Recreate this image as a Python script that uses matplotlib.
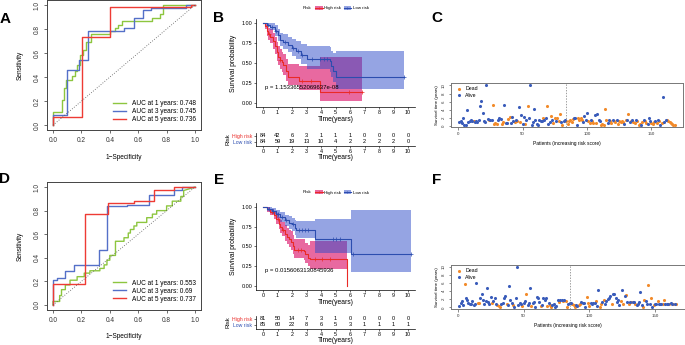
# -*- coding: utf-8 -*-

import numpy as np
import matplotlib
matplotlib.use('Agg')
import matplotlib.pyplot as plt
from matplotlib.lines import Line2D
from matplotlib.patches import Patch

plt.rcParams['font.family'] = ['Liberation Sans', 'DejaVu Sans']

# ---------------- ROC data (A = training, D = validation) ----------------
roc_years = [1, 3, 5]
roc_colors = ['#8DC63F', '#5470C8', '#EE3B34']

a_fp_1 = [0, 0, 0.063, 0.063, 0.08, 0.08, 0.094, 0.094, 0.133, 0.133, 0.157, 0.157, 0.17, 0.17,
          0.192, 0.192, 0.21, 0.21, 0.234, 0.234, 0.267, 0.267, 0.403, 0.403, 0.438, 0.438,
          0.461, 0.461, 0.485, 0.485, 0.696, 0.696, 0.754, 0.754, 0.778, 0.778, 1.0]
a_tp_1 = [0, 0.11, 0.11, 0.21, 0.21, 0.31, 0.31, 0.375, 0.375, 0.41, 0.41, 0.45, 0.45, 0.5,
          0.5, 0.58, 0.58, 0.625, 0.625, 0.69, 0.69, 0.76, 0.76, 0.78, 0.78, 0.81,
          0.81, 0.83, 0.83, 0.865, 0.865, 0.89, 0.89, 0.925, 0.925, 1.0, 1.0]
a_fp_3 = [0, 0, 0.098, 0.098, 0.18, 0.18, 0.244, 0.244, 0.497, 0.497, 0.567, 0.567, 0.637, 0.637,
          0.69, 0.69, 0.94, 0.94, 1.0]
a_tp_3 = [0, 0.083, 0.083, 0.458, 0.458, 0.54, 0.54, 0.786, 0.786, 0.805, 0.805, 0.889, 0.889, 0.958,
          0.958, 0.972, 0.972, 1.0, 1.0]
a_fp_5 = [0, 0, 0.204, 0.204, 0.403, 0.403, 0.97, 0.97, 1.0]
a_tp_5 = [0, 0.069, 0.069, 0.73, 0.73, 0.98, 0.98, 1.0, 1.0]
a_auc = ['0.748', '0.745', '0.736']

d_fp_1 = [0, 0, 0.047, 0.047, 0.06, 0.06, 0.087, 0.087, 0.12, 0.12, 0.17, 0.17, 0.22, 0.22, 0.26, 0.26,
          0.33, 0.33, 0.36, 0.36, 0.38, 0.38, 0.40, 0.40, 0.44, 0.44, 0.5, 0.5, 0.53, 0.53, 0.545, 0.545,
          0.57, 0.57, 0.59, 0.59, 0.66, 0.66, 0.70, 0.70, 0.73, 0.73, 0.80, 0.80, 0.84, 0.84, 0.90, 0.90,
          0.92, 0.92, 1.0]
d_tp_1 = [0, 0.03, 0.03, 0.08, 0.08, 0.13, 0.13, 0.17, 0.17, 0.21, 0.21, 0.24, 0.24, 0.27, 0.27, 0.29,
          0.29, 0.31, 0.31, 0.34, 0.34, 0.38, 0.38, 0.42, 0.42, 0.54, 0.54, 0.57, 0.57, 0.61, 0.61, 0.64,
          0.64, 0.67, 0.67, 0.70, 0.70, 0.74, 0.74, 0.77, 0.77, 0.80, 0.80, 0.84, 0.84, 0.88, 0.88, 0.92,
          0.92, 0.97, 1.0]
d_fp_3 = [0, 0, 0.028, 0.028, 0.087, 0.087, 0.15, 0.15, 0.322, 0.322, 0.381, 0.381, 0.52, 0.52,
          0.675, 0.675, 0.85, 0.85, 0.91, 0.91, 1.0]
d_tp_3 = [0, 0.21, 0.21, 0.23, 0.23, 0.288, 0.288, 0.335, 0.335, 0.469, 0.469, 0.838, 0.838, 0.85,
          0.85, 0.936, 0.936, 0.978, 0.978, 1.0, 1.0]
d_fp_5 = [0, 0, 0.228, 0.228, 0.386, 0.386, 0.57, 0.57, 0.71, 0.71, 0.85, 0.85, 1.0]
d_tp_5 = [0, 0.18, 0.18, 0.774, 0.774, 0.866, 0.866, 0.885, 0.885, 0.978, 0.978, 1.0, 1.0]
d_auc = ['0.553', '0.69', '0.737']

# ---------------- Kaplan-Meier data ----------------
km_ticks = list(range(0, 11))
km_red = '#EA2A26'
km_blue = '#2C4DAF'
fill_red = '#DA0561'
fill_blue = '#2D4BC8'

b_high_t = [0, 0.15, 0.25, 0.37, 0.5, 0.7, 0.83, 0.94, 1.06, 1.17, 1.29, 1.4, 1.6, 1.7, 2.5, 3.9, 6.8]
b_high_s = [1, 0.96, 0.9, 0.86, 0.83, 0.77, 0.71, 0.64, 0.58, 0.54, 0.51, 0.47, 0.40, 0.33, 0.27, 0.14, 0.14]
b_high_lo = [1, 0.92, 0.84, 0.79, 0.75, 0.68, 0.61, 0.53, 0.47, 0.42, 0.39, 0.35, 0.28, 0.22, 0.16, 0.03, 0.03]
b_high_hi = [1, 1.0, 0.97, 0.94, 0.92, 0.87, 0.82, 0.76, 0.71, 0.67, 0.64, 0.61, 0.55, 0.49, 0.46, 0.575, 0.575]
b_high_cens = [0.4, 1.2, 2.7, 3.3, 5.9, 6.8]
b_low_t = [0, 0.3, 0.5, 0.8, 1.0, 1.2, 1.35, 1.7, 2.0, 2.3, 2.6, 3.0, 4.6, 4.7, 4.85, 5.0, 9.7]
b_low_s = [1, 0.98, 0.95, 0.9, 0.85, 0.79, 0.76, 0.73, 0.69, 0.65, 0.60, 0.55, 0.52, 0.46, 0.40, 0.33, 0.33]
b_low_lo = [1, 0.95, 0.91, 0.84, 0.78, 0.71, 0.68, 0.64, 0.59, 0.55, 0.49, 0.43, 0.39, 0.32, 0.26, 0.175, 0.175]
b_low_hi = [1, 1.0, 1.0, 0.97, 0.93, 0.88, 0.86, 0.83, 0.80, 0.77, 0.74, 0.71, 0.70, 0.65, 0.62, 0.645, 0.645]
b_low_cens = [0.35, 0.6, 0.9, 1.5, 2.1, 2.4, 2.7, 3.4, 3.9, 4.2, 4.4, 9.7]
b_pval = 'p = 1.15336552069637e-08'
b_risk_high = [84, 42, 6, 3, 1, 1, 1, 0, 0, 0, 0]
b_risk_low = [84, 59, 19, 13, 10, 4, 2, 2, 2, 2, 0]

e_high_t = [0, 0.3, 0.5, 0.73, 0.9, 1.08, 1.2, 1.3, 1.5, 1.65, 1.8, 1.9, 2.05, 2.15, 2.8, 2.9, 3.1, 3.25, 5.77]
e_high_s = [1, 0.97, 0.94, 0.90, 0.85, 0.79, 0.75, 0.71, 0.66, 0.62, 0.59, 0.56, 0.51, 0.46, 0.44, 0.40, 0.36, 0.34, 0.0]
e_high_lo = [1, 0.94, 0.9, 0.85, 0.79, 0.72, 0.67, 0.63, 0.57, 0.53, 0.49, 0.46, 0.40, 0.35, 0.33, 0.29, 0.25, 0.21, 0.0]
e_high_hi = [1, 1.0, 0.98, 0.95, 0.92, 0.87, 0.84, 0.81, 0.77, 0.74, 0.71, 0.69, 0.64, 0.60, 0.59, 0.55, 0.52, 0.575, 0.0]
e_high_cens = [0.6, 1.0, 1.4, 2.4, 2.6, 3.6, 4.1, 4.6]
e_low_t = [0, 0.3, 0.6, 0.9, 1.2, 1.5, 1.8, 2.0, 2.2, 2.3, 3.6, 6.05, 10.2]
e_low_s = [1, 0.98, 0.95, 0.91, 0.87, 0.83, 0.80, 0.78, 0.74, 0.71, 0.60, 0.40, 0.40]
e_low_lo = [1, 0.95, 0.91, 0.86, 0.81, 0.76, 0.72, 0.69, 0.65, 0.61, 0.42, 0.18, 0.18]
e_low_hi = [1, 1.0, 0.99, 0.96, 0.93, 0.90, 0.88, 0.86, 0.84, 0.82, 0.85, 0.96, 0.96]
e_low_cens = [0.4, 0.7, 1.0, 1.3, 1.6, 2.1, 2.5, 2.7, 2.9, 3.1, 4.8, 5.0, 5.3, 6.2, 10.2]
e_pval = 'p = 0.0156063130845936'
e_risk_high = [81, 50, 14, 7, 3, 1, 0, 0, 0, 0, 0]
e_risk_low = [85, 60, 22, 8, 6, 5, 3, 1, 1, 1, 1]

# ---------------- survival status scatter (C, F) ----------------
dot_orange = '#F28A2A'
dot_blue = '#3A5CBA'

c_n_low = 84
c_time = [1.1, 1.3, 0.8, 2.1, 0.4, 0.2, 3.9, 1.1, 1.2, 1.5,
          1.2, 1.3, 1.0, 1.3, 1.0, 1.6, 5.0, 6.2, 3.2, 1.3,
          1.0, 10.2, 1.8, 1.5, 1.6, 1.5, 5.1, 0.5, 0.8, 0.5,
          1.6, 2.1, 1.7, 0.6, 1.0, 5.1, 0.9, 0.8, 1.8, 2.2,
          0.8, 2.3, 1.2, 1.0, 1.6, 1.3, 4.6, 1.0, 2.8, 0.6,
          2.2, 0.6, 1.6, 4.9, 2.1, 10.2, 0.3, 1.1, 4.3, 1.6,
          0.5, 0.3, 1.6, 1.2, 1.3, 1.9, 1.4, 1.9, 4.9, 0.5,
          1.1, 2.4, 1.5, 0.8, 1.9, 1.3, 2.1, 1.2, 3.1, 1.1,
          0.4, 1.3, 1.6, 1.3,
          0.5, 1.3, 1.6, 1.0, 1.8, 2.1, 1.9, 0.4, 1.9, 1.5,
          1.9, 1.5, 1.1, 2.4, 1.6, 3.3, 1.3, 0.8, 1.6, 1.3,
          0.8, 2.7, 0.8, 2.9, 1.6, 1.3, 0.3, 0.5, 0.4, 4.1,
          1.6, 0.8, 1.6, 1.3, 0.8, 1.6, 1.3, 1.0, 1.6, 0.5,
          1.3, 1.0, 1.3, 1.1, 0.5, 1.6, 1.6, 2.9, 1.1, 1.3,
          1.6, 1.0, 0.8, 1.6, 1.3, 0.4, 0.5, 0.3, 1.0, 1.6,
          1.3, 0.8, 0.5, 1.9, 1.3, 0.8, 0.5, 1.1, 1.3, 0.8,
          1.6, 1.3, 0.4, 0.8, 7.1, 1.0, 1.6, 1.6, 1.3, 1.0,
          0.8, 0.5, 0.4, 0.4]
c_status = [0, 0, 0, 0, 0, 0, 0, 0, 0, 0,
            0, 1, 0, 0, 0, 0, 0, 0, 0, 0,
            0, 0, 0, 1, 0, 0, 1, 1, 1, 1,
            0, 0, 0, 1, 1, 0, 0, 0, 1, 1,
            0, 0, 0, 1, 0, 1, 0, 1, 0, 0,
            0, 1, 0, 1, 0, 0, 0, 0, 0, 0,
            0, 0, 0, 0, 0, 1, 0, 0, 1, 0,
            0, 1, 0, 1, 1, 0, 1, 1, 1, 0,
            1, 0, 0, 1,
            1, 1, 1, 1, 1, 0, 0, 0, 1, 1,
            1, 1, 0, 0, 0, 0, 1, 1, 0, 1,
            1, 0, 1, 0, 0, 0, 1, 1, 1, 1,
            1, 0, 0, 1, 1, 0, 1, 1, 0, 1,
            1, 1, 1, 1, 0, 1, 0, 1, 0, 1,
            0, 1, 1, 0, 1, 1, 1, 0, 1, 0,
            1, 1, 0, 0, 0, 1, 1, 1, 0, 1,
            0, 1, 0, 1, 0, 0, 0, 1, 1, 1,
            1, 1, 1, 1]

f_n_low = 85
f_time = [0.25, 1.1, 1.6, 0.5, 5.9, 2.4, 1.9, 1.1, 0.75, 0.9,
          1.6, 0.7, 0.75, 6.1, 1.1, 1.1, 2.2, 3.25, 1.75, 0.9,
          1.5, 4.7, 1.3, 0.75, 2.6, 1.1, 1.6, 2.2, 0.9, 0.5,
          0.25, 0.1, 0.9, 1.1, 2.2, 2.75, 0.75, 0.5, 5.25, 1.75,
          1.1, 0.5, 0.0, 2.2, 10.1, 0.5, 1.1, 0.75, 0.25, 1.1,
          1.6, 3.25, 0.5, 1.0, 4.9, 0.25, 1.1, 1.3, 0.1, 2.6,
          2.4, 1.3, 0.25, 0.5, 2.2, 1.75, 2.2, 0.25, 1.1, 0.6,
          0.1, 0.5, 0.75, 0.0, 0.25, 1.9, 1.3, 1.75, 1.9, 1.6,
          1.9, 1.6, 0.1, 0.75, 1.1,
          1.1, 0.9, 0.5, 0.05, 0.5, 0.25, 0.5, 0.9, 1.3, 1.1,
          1.0, 0.05, 2.6, 1.1, 0.25, 1.1, 0.9, 1.1, 1.0, 1.6,
          0.25, 4.4, 0.1, 0.75, 1.3, 1.9, 0.75, 1.6, 2.1, 2.2,
          2.75, 0.75, 3.25, 3.25, 2.2, 1.3, 1.9, 0.5, 1.6, 4.4,
          0.75, 2.75, 3.0, 1.3, 0.75, 1.3, 1.3, 1.3, 1.3, 0.75,
          0.5, 0.9, 1.3, 3.7, 0.5, 0.05, 1.9, 1.6, 0.75, 5.5,
          0.75, 2.2, 0.1, 0.5, 0.9, 0.9, 1.6, 0.9, 0.9, 0.9,
          0.9, 1.9, 0.9, 0.9, 0.9, 0.9, 1.0, 0.75, 0.9, 0.9,
          0.9]
f_status = [0, 0, 0, 0, 1, 0, 0, 0, 0, 0,
            0, 0, 0, 0, 1, 1, 0, 0, 0, 0,
            0, 0, 0, 0, 0, 1, 0, 0, 0, 1,
            1, 1, 0, 0, 0, 0, 1, 0, 0, 0,
            0, 1, 0, 0, 0, 0, 0, 0, 1, 0,
            0, 1, 0, 0, 0, 1, 0, 0, 0, 0,
            0, 0, 1, 0, 0, 0, 0, 1, 0, 1,
            1, 0, 0, 0, 0, 0, 1, 0, 0, 1,
            0, 1, 1, 0, 0,
            0, 1, 1, 1, 0, 0, 1, 1, 0, 0,
            0, 0, 1, 1, 1, 0, 0, 0, 0, 1,
            0, 0, 1, 1, 0, 1, 0, 0, 0, 0,
            0, 1, 0, 0, 0, 0, 0, 0, 1, 0,
            1, 0, 1, 0, 1, 0, 1, 0, 0, 1,
            0, 0, 0, 0, 0, 1, 1, 0, 0, 1,
            0, 1, 0, 1, 0, 0, 1, 0, 0, 0,
            1, 1, 0, 0, 0, 1, 0, 0, 1, 0,
            1]

W, H = 685.0, 345.0


# Function to place an axes from a pixel box (left, top, right, bottom)
def px_axes(fig, left, top, right, bottom):
    return fig.add_axes([left / W, 1 - bottom / H, (right - left) / W, (bottom - top) / H])


# Function to draw a time-dependent ROC panel
def draw_roc(ax, curves, aucs):
    for (fp, tp), col, yr, auc in zip(curves, roc_colors, roc_years, aucs):
        ax.plot(fp, tp, color=col, lw=1.0, label='AUC at %d years: %s' % (yr, auc))
    ax.plot([0, 1], [0, 1], color='#555555', lw=0.6, ls=(0, (1, 2)))
    ax.set_xlim(-0.04, 1.04)
    ax.set_ylim(-0.04, 1.04)
    ticks = [0, 0.2, 0.4, 0.6, 0.8, 1.0]
    ax.set_xticks(ticks)
    ax.set_xticklabels(['%.1f' % t for t in ticks])
    ax.set_yticks(ticks)
    ax.set_yticklabels(['%.1f' % t for t in ticks], rotation=90, va='center')
    ax.tick_params(labelsize=4.7, length=2.5, width=0.5, pad=2.5, colors='#333333')
    ax.set_xlabel('1\u2212Specificity', fontsize=4.7, labelpad=7)
    ax.set_ylabel('Sensitivity', fontsize=4.7, labelpad=7)
    for s in ax.spines.values():
        s.set_linewidth(0.7)
        s.set_color('#444444')
    ax.legend(loc='lower right', bbox_to_anchor=(1.0, 0.02), frameon=False, fontsize=4.7,
              handlelength=2.0, handletextpad=1.0, labelspacing=0.15, borderaxespad=0.3)


# Value of a step curve at given times
def step_at(times, surv, t):
    idx = np.searchsorted(times, t, side='right') - 1
    return np.asarray(surv)[idx]


# Function to draw a Kaplan-Meier panel with its risk table
def draw_km(ax, tab, groups, pval, risk_high, risk_low):
    for t, s, lo, hi, cens, lc, fc, fa in groups:
        ax.fill_between(t, lo, hi, step='post', color=fc, alpha=fa, lw=0)
    for t, s, lo, hi, cens, lc, fc, fa in groups:
        ax.step(t, s, where='post', color=lc, lw=0.8)
        ax.plot(cens, step_at(t, s, cens), ls='none', marker='+', ms=2.5, mew=0.5, color=lc)
    ax.set_xlim(-0.5, 10.5)
    ax.set_ylim(-0.05, 1.05)
    ax.set_xticks(km_ticks)
    ax.set_yticks([0, 0.25, 0.5, 0.75, 1.0])
    ax.set_yticklabels(['0.00', '0.25', '0.50', '0.75', '1.00'])
    ax.tick_params(labelsize=3.9, length=1.5, width=0.4, pad=1)
    ax.set_xlabel('Time(years)', fontsize=4.9, labelpad=0.3)
    ax.set_ylabel('Survival probability', fontsize=4.9, labelpad=3)
    for side in ['top', 'right']:
        ax.spines[side].set_visible(False)
    for side in ['left', 'bottom']:
        ax.spines[side].set_linewidth(0.5)
    ax.text(0.15, 0.2, pval, fontsize=4.3, va='center', ha='left')

    # legend above the plot
    hands = []
    for t, s, lo, hi, cens, lc, fc, fa in groups:
        hands.append((Patch(facecolor=fc, alpha=fa, lw=0),
                      Line2D([], [], color=lc, lw=0.8, marker='+', ms=2, mew=0.5)))
    ax.legend(hands, ['High risk', 'Low risk'], loc='center', bbox_to_anchor=(0.54, 1.125),
              ncol=2, frameon=False, fontsize=3.2, handlelength=1.7, handleheight=1.2,
              handletextpad=0.3, columnspacing=0.6, borderpad=0)
    ax.text(0.35, 1.125, 'Risk', transform=ax.transAxes, fontsize=3.2, ha='right', va='center')

    # numbers at risk
    tab.set_xlim(-0.5, 10.5)
    tab.set_ylim(-0.7, 1.5)
    for t, nh, nl in zip(km_ticks, risk_high, risk_low):
        tab.text(t, 1, str(nh), ha='center', va='center', fontsize=4.1)
        tab.text(t, 0, str(nl), ha='center', va='center', fontsize=4.1)
    tab.set_xticks(km_ticks)
    tab.set_yticks([1, 0])
    tab.set_yticklabels(['High risk', 'Low risk'])
    for lab, col in zip(tab.get_yticklabels(), [km_red, km_blue]):
        lab.set_color(col)
    tab.tick_params(labelsize=3.7, length=1.5, width=0.4, pad=1)
    tab.tick_params(axis='x', labelsize=3.9, pad=0.8)
    tab.set_xlabel('Time(years)', fontsize=4.9, labelpad=0.1)
    tab.set_ylabel('Risk', fontsize=4.3, labelpad=1)
    for side in ['top', 'right']:
        tab.spines[side].set_visible(False)
    for side in ['left', 'bottom']:
        tab.spines[side].set_linewidth(0.5)


# Function to draw the survival status scatter
def draw_status(ax, times, status, n_low):
    times = np.array(times)
    status = np.array(status)
    pid = np.arange(1, len(times) + 1)
    dead = status == 1
    ax.scatter(pid[dead], times[dead], s=5, color=dot_orange, lw=0, label='Dead')
    ax.scatter(pid[~dead], times[~dead], s=5, color=dot_blue, lw=0, label='Alive')
    ax.axvline(n_low, color='#777777', lw=0.5, ls=(0, (2, 2)))
    n = len(times)
    xpad = 0.04 * (n - 1)
    ypad = 0.04 * (times.max() - times.min())
    ax.set_xlim(1 - xpad, n + xpad)
    ax.set_ylim(times.min() - ypad, times.max() + ypad)
    ax.set_xticks([0, 50, 100, 150])
    ax.set_yticks([0, 2, 4, 6, 8, 10])
    ax.set_yticklabels(['0', '2', '4', '6', '8', '10'], rotation=90, va='center')
    ax.tick_params(labelsize=3.2, length=1.8, width=0.4, pad=1.5, colors='#333333')
    ax.set_xlabel('Patients (increasing risk score)', fontsize=3.5, labelpad=4)
    ax.set_ylabel('Survival time (years)', fontsize=3.2, labelpad=2)
    for s in ax.spines.values():
        s.set_linewidth(0.7)
        s.set_color('#777777')
    ax.legend(loc='upper left', frameon=False, fontsize=3.8, handletextpad=0.2,
              borderaxespad=0.2, labelspacing=0.3, markerscale=1.0, scatterpoints=1)


fig = plt.figure(figsize=(6.85, 3.45), dpi=100)

# A / D : ROC curves
ax_a = px_axes(fig, 47.3, 0.2, 200.7, 130.0)
draw_roc(ax_a, [(a_fp_1, a_tp_1), (a_fp_3, a_tp_3), (a_fp_5, a_tp_5)], a_auc)
ax_d = px_axes(fig, 47.3, 182.3, 200.7, 309.7)
draw_roc(ax_d, [(d_fp_1, d_tp_1), (d_fp_3, d_tp_3), (d_fp_5, d_tp_5)], d_auc)

# B / E : Kaplan-Meier
ax_b = px_axes(fig, 255.75, 19, 415.25, 107)
tab_b = px_axes(fig, 255.75, 133, 415.25, 146)
draw_km(ax_b, tab_b,
        [(b_high_t, b_high_s, b_high_lo, b_high_hi, b_high_cens, km_red, fill_red, 0.6),
         (b_low_t, b_low_s, b_low_lo, b_low_hi, b_low_cens, km_blue, fill_blue, 0.5)],
        b_pval, b_risk_high, b_risk_low)
ax_e = px_axes(fig, 255.75, 203, 415.25, 290)
tab_e = px_axes(fig, 255.75, 316, 415.25, 328.5)
draw_km(ax_e, tab_e,
        [(e_high_t, e_high_s, e_high_lo, e_high_hi, e_high_cens, km_red, fill_red, 0.6),
         (e_low_t, e_low_s, e_low_lo, e_low_hi, e_low_cens, km_blue, fill_blue, 0.5)],
        e_pval, e_risk_high, e_risk_low)

# C / F : survival status
ax_c = px_axes(fig, 450.7, 83, 683.3, 127)
draw_status(ax_c, c_time, c_status, c_n_low)
ax_f = px_axes(fig, 450.6, 265, 684.6, 309)
draw_status(ax_f, f_time, f_status, f_n_low)

# panel letters
for lab, x, y in [('A', 5, 19), ('B', 219, 18), ('C', 437, 18),
                  ('D', 5, 179), ('E', 219, 180), ('F', 437, 180)]:
    fig.text(x / W, 1 - y / H, lab, fontsize=11, fontweight='bold', ha='center', va='center')

fig.savefig('out.png', dpi=100)
